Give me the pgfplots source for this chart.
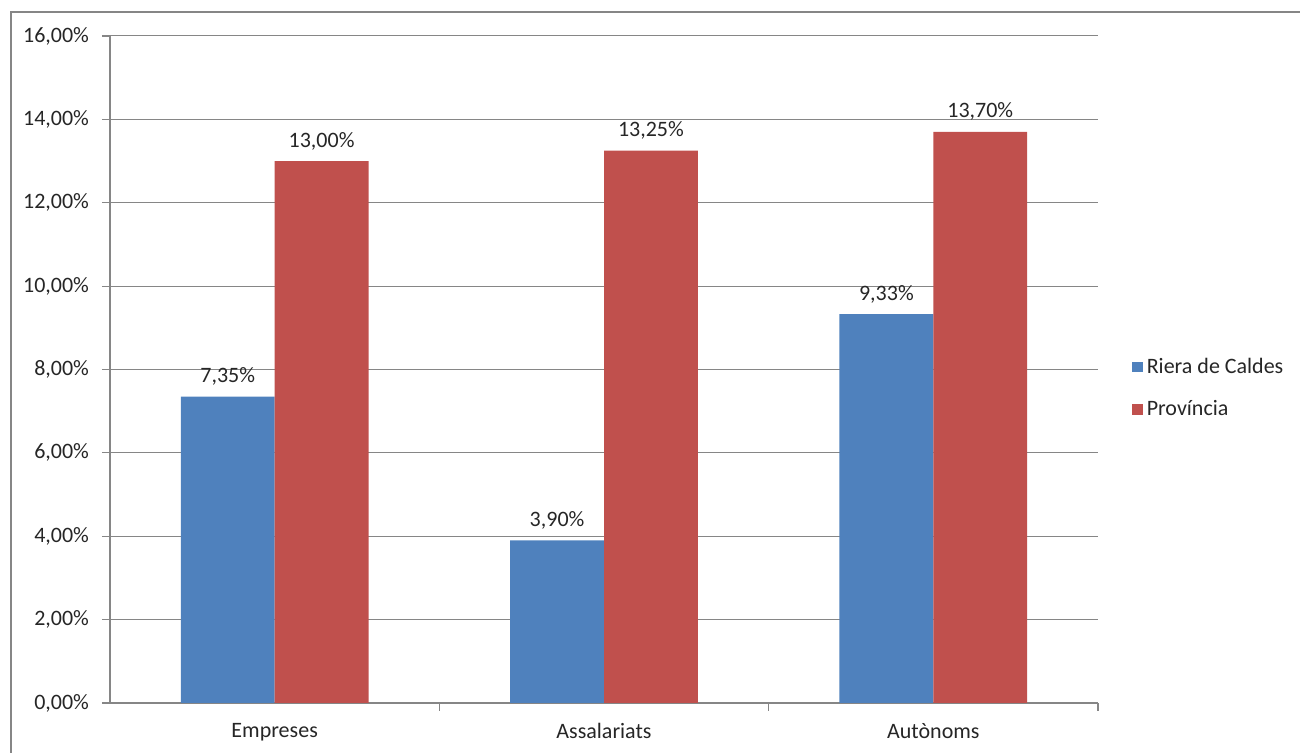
\documentclass[border=0pt]{standalone}
\usepackage{fontspec}
\setmainfont{Carlito}
\usepackage{pgfplots}
\pgfplotsset{compat=1.18}
\definecolor{cblue}{HTML}{4F81BD}
\definecolor{cred}{HTML}{C0504D}
\definecolor{cgrid}{HTML}{868686}
\definecolor{ctext}{HTML}{262626}
\begin{document}
\begin{tikzpicture}[font=\fontsize{11pt}{13pt}\selectfont]
\useasboundingbox (0,0) rectangle (650pt,376.5pt);
\draw[cgrid, line width=0.6pt] (5.5pt,0) -- (5.5pt,370.5pt) -- (650pt,370.5pt);
\begin{axis}[
  at={(55pt,25pt)}, anchor=south west,
  scale only axis, width=494pt, height=333.5pt,
  ybar=0pt, bar width=0.285,
  xmin=-0.5, xmax=2.5, ymin=0, ymax=16,
  xtick={0.5,1.5,2.5}, xticklabels={},
  extra x ticks={0,1,2}, extra x tick labels={Empreses,Assalariats,Autònoms},
  extra x tick style={grid=none, major tick length=0pt},
  ytick={0,2,...,16},
  ymajorgrids, major grid style={cgrid, line width=0.5pt},
  axis x line*=bottom, axis y line*=left,
  axis line style={cgrid, line width=0.6pt, -},
  tick style={cgrid, line width=0.6pt},
  tick align=outside, major tick length=4pt,
  tick label style={text=ctext},
  /pgf/number format/assume math mode=true,
  yticklabel={\pgfmathprintnumber[fixed,fixed zerofill,precision=2,use comma]{\tick}\%},
  yticklabel style={xshift=-3pt},
  xticklabel style={yshift=-6.5pt},
  nodes near coords={\pgfmathprintnumber[fixed,fixed zerofill,precision=2,use comma,assume math mode=true]{\pgfplotspointmeta}\%},
  every node near coord/.append style={text=ctext, yshift=2pt},
  legend style={draw=none, fill=none, at={(1.034,0.472)}, anchor=west,
    font=\fontsize{11pt}{13pt}\selectfont, text=ctext,
    row sep=8pt, inner sep=0pt},
  legend cell align=left,
  legend image code/.code={\fill[#1] (0pt,-2.7pt) rectangle (5.4pt,2.7pt);},
]
\addplot[fill=cblue, draw=none] coordinates {(0,7.35) (1,3.90) (2,9.33)};
\addplot[fill=cred, draw=none] coordinates {(0,13.00) (1,13.25) (2,13.70)};
\legend{Riera de Caldes, Província}
\end{axis}
\end{tikzpicture}
\end{document}
